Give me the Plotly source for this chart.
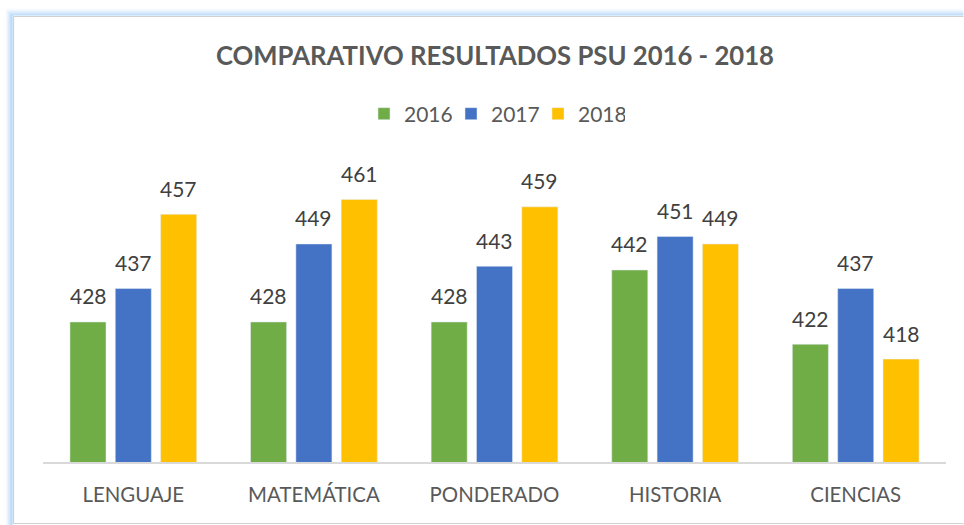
import plotly.graph_objects as go

categories = ["LENGUAJE", "MATEMÁTICA", "PONDERADO", "HISTORIA", "CIENCIAS"]
series_names = ["2016", "2017", "2018"]
values_2016 = [428, 428, 428, 442, 422]
values_2017 = [437, 449, 443, 451, 437]
values_2018 = [457, 461, 459, 449, 418]
colors = ["#70ad47", "#4472c4", "#ffc000"]

W, H = 964, 525
L, R, T, B = 43, 964 - 946.5, 166, 525 - 462
PW, PH = W - L - R, H - T - B

def px_x(p):
    return (p - L) / PW

def px_y(p):
    return (H - B - p) / PH

fig = go.Figure()
all_vals = [values_2016, values_2017, values_2018]
annotations = []
slot = 45.3
for k, (name, vals, col) in enumerate(zip(series_names, all_vals, colors)):
    fig.add_trace(go.Bar(x=categories, y=vals, name=name, marker_color=col))
    for c, v in zip(categories, vals):
        annotations.append(dict(x=c, y=v, xref="x", yref="y", text=str(v),
                                showarrow=False, xanchor="center", yanchor="middle",
                                xshift=(k - 1) * slot, yshift=26,
                                font=dict(family="Lato", size=21, color="#404040")))

annotations.append(dict(text="<b>COMPARATIVO RESULTADOS PSU 2016 - 2018</b>",
                        xref="paper", yref="paper", x=0.5, y=px_y(55),
                        xanchor="center", yanchor="middle", showarrow=False,
                        font=dict(family="Lato", size=25.7, color="#595959")))

def seg(x0, y0, x1, y1, color, width):
    return dict(type="line", xref="paper", yref="paper",
                x0=px_x(x0), x1=px_x(x1), y0=px_y(y0), y1=px_y(y1),
                line=dict(color=color, width=width), layer="below")

shapes = []
for i, a in enumerate([0.55, 0.45, 0.35, 0.25, 0.16, 0.09, 0.04]):
    off = i + 1
    col = f"rgba(120,185,245,{a})"
    shapes.append(seg(13 - off, 16 - off, 964, 16 - off, col, 1.2))
    shapes.append(seg(13 - off, 16 - off, 13 - off, 530, col, 1.2))
shapes.append(seg(13.5, 16.5, 964, 16.5, "#d0d0d0", 1.2))
shapes.append(seg(13.5, 16.5, 13.5, 523.5, "#d0d0d0", 1.2))
shapes.append(seg(13.5, 523.5, 964, 523.5, "#d0d0d0", 1.2))

fig.update_layout(
    width=W, height=H,
    margin=dict(l=L, r=R, t=T, b=B, autoexpand=False),
    paper_bgcolor="white", plot_bgcolor="rgba(0,0,0,0)",
    barmode="group", bargap=0.247, bargroupgap=0.205,
    showlegend=True,
    legend=dict(orientation="h", x=0.5, xanchor="center", y=px_y(114), yanchor="middle",
                font=dict(family="Lato", size=21, color="#595959"),
                entrywidth=42, traceorder="normal"),
    xaxis=dict(showline=True, linecolor="#d9d9d9", linewidth=1.5, showgrid=False,
               ticks="", ticklabelstandoff=14,
               tickfont=dict(family="Lato", size=20.4, color="#595959")),
    yaxis=dict(range=[390.3, 470], visible=False, showgrid=False),
    annotations=annotations,
    shapes=shapes,
)

fig.write_html(
    "out.html", config={"displayModeBar": False},
    post_script=("document.documentElement.style.margin='0';"
                 "document.documentElement.style.overflow='hidden';"
                 "document.body.style.margin='0';document.body.style.overflow='hidden';"
                 "document.body.style.background='white';"),
)
